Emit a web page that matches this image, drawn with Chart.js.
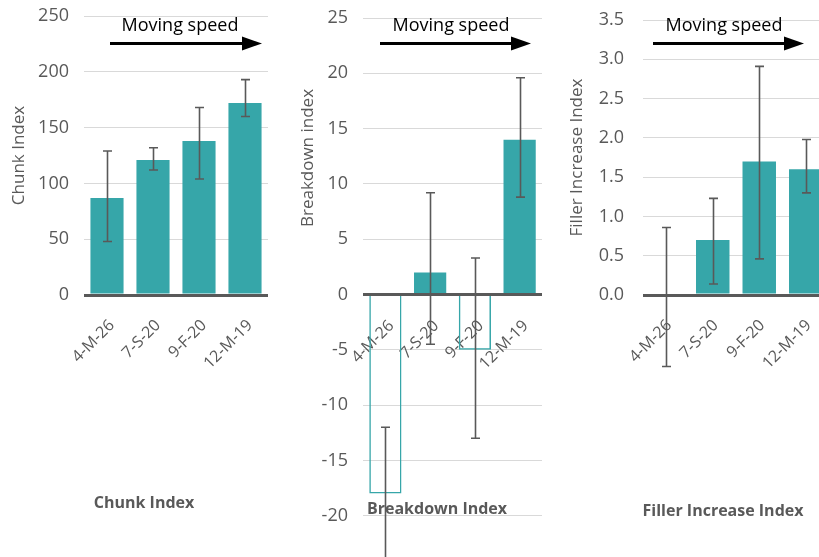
<!DOCTYPE html>
<html>
<head>
<meta charset="utf-8">
<script src="https://cdn.jsdelivr.net/npm/chart.js@4.4.1/dist/chart.umd.min.js"></script>
<style>
  html, body { margin:0; padding:0; background:#fff; width:819px; height:557px; overflow:hidden; position:relative; font-family:"Open Sans", sans-serif; }
  canvas { position:absolute; top:0; }
  .txt { position:absolute; white-space:nowrap; line-height:1; transform:translateX(-50%); }
  .speed { font-size:18px; color:#000; }
  .btitle { font-size:16px; font-weight:700; color:#595959; }
  .vtitle { position:absolute; white-space:nowrap; line-height:1; font-size:17px; color:#595959; transform:translate(-50%,-50%) rotate(-90deg); }
  svg { position:absolute; left:0; top:0; }
</style>
</head>
<body>
<canvas id="c1" width="280" height="557" style="left:0px;width:280px;height:557px"></canvas>
<canvas id="c2" width="270" height="600" style="left:280px;width:270px;height:600px"></canvas>
<canvas id="c3" width="290" height="557" style="left:550px;width:290px;height:557px"></canvas>

<svg width="819" height="557">
  <g stroke="#000" stroke-width="3" fill="#000">
    <line x1="110" y1="43.5" x2="244" y2="43.5"/>
    <polygon points="242,36.5 262,43.5 242,50.5" stroke="none"/>
    <line x1="380" y1="43.5" x2="513" y2="43.5"/>
    <polygon points="511,36.5 531,43.5 511,50.5" stroke="none"/>
    <line x1="653" y1="43.5" x2="786" y2="43.5"/>
    <polygon points="784,36.5 804,43.5 784,50.5" stroke="none"/>
  </g>
</svg>

<div class="txt speed" style="left:180px;top:14.5px">Moving speed</div>
<div class="txt speed" style="left:451px;top:14.5px">Moving speed</div>
<div class="txt speed" style="left:724px;top:14.5px">Moving speed</div>

<div class="vtitle" style="left:306px;top:158px">Breakdown index</div>

<div class="txt btitle" style="left:144px;top:494px">Chunk Index</div>
<div class="txt btitle" style="left:437px;top:500px">Breakdown Index</div>
<div class="txt btitle" style="left:723px;top:502px">Filler Increase Index</div>

<script>
// ---- data ----
const categories = ['4-M-26', '7-S-20', '9-F-20', '12-M-19'];

const chunkValues = [87, 121, 138, 172];
const chunkLow    = [48, 112, 104, 160];
const chunkHigh   = [129, 132, 168, 193];

const breakdownValues = [-18, 2, -5, 14];
const breakdownLow    = [-24, -4.5, -13, 8.8];
const breakdownHigh   = [-12, 9.2, 3.3, 19.6];

const fillerValues = [0, 0.7, 1.7, 1.6];
const fillerLow    = [-0.91, 0.14, 0.46, 1.3];
const fillerHigh   = [0.86, 1.23, 2.91, 1.98];

const chunkTicks = { min: 0, max: 250, step: 50 };
const breakdownTicks = { min: -25, max: 25, step: 5 };
const fillerTicks = { min: 0, max: 3.5, step: 0.5 };

// ---- styling ----
const TEAL = '#36a6a9';
const GRAY = '#595959';
const GRID = '#d9d9d9';
const FONT = '"Open Sans", sans-serif';

const errorBarPlugin = {
  id: 'errorBars',
  afterDatasetsDraw(chart, args, opts) {
    if (!opts || !opts.low) return;
    const { ctx } = chart;
    const x = chart.scales.x, y = chart.scales.y;
    ctx.save();
    ctx.strokeStyle = GRAY;
    ctx.lineWidth = 1.6;
    const cap = 4.5;
    opts.low.forEach((lo, i) => {
      const px = Math.round(x.getPixelForValue(i)) + 0.5;
      const yl = y.getPixelForValue(lo);
      const yh = y.getPixelForValue(opts.high[i]);
      ctx.beginPath();
      ctx.moveTo(px, yl); ctx.lineTo(px, yh);
      ctx.moveTo(px - cap, yl); ctx.lineTo(px + cap, yl);
      ctx.moveTo(px - cap, yh); ctx.lineTo(px + cap, yh);
      ctx.stroke();
    });
    ctx.restore();
  }
};

function gridColor(c) { return c.tick && c.tick.value === 0 ? GRAY : GRID; }
function gridWidth(c) { return c.tick && c.tick.value === 0 ? 3 : 1; }

function makeChart(id, cfg) {
  const xScale = {
    grid: { display: false },
    border: { display: false },
    ticks: {
      autoSkip: false, minRotation: 45, maxRotation: 45,
      color: GRAY, font: { family: FONT, size: 16 },
      padding: cfg.xPad, labelOffset: cfg.xLabelOffset || 0
    },
    afterFit: a => { a.height = cfg.xHeight; }
  };
  if (cfg.xPosition) xScale.position = cfg.xPosition;
  return new Chart(document.getElementById(id), {
    type: 'bar',
    data: {
      labels: categories,
      datasets: [{
        data: cfg.values,
        backgroundColor: cfg.values.map(v => v < 0 ? 'rgba(0,0,0,0)' : TEAL),
        borderColor: TEAL,
        borderWidth: cfg.values.map(v => v < 0 ? 1.5 : 0),
        categoryPercentage: 1,
        barPercentage: 0.72
      }]
    },
    options: {
      responsive: false,
      animation: false,
      devicePixelRatio: 1,
      layout: { padding: cfg.padding },
      plugins: {
        legend: { display: false },
        tooltip: { enabled: false },
        errorBars: { low: cfg.low, high: cfg.high }
      },
      scales: {
        x: xScale,
        y: {
          min: cfg.ticks.min, max: cfg.ticks.max,
          border: { display: false },
          grid: { color: gridColor, lineWidth: gridWidth, drawTicks: false },
          ticks: {
            stepSize: cfg.ticks.step, color: GRAY,
            font: { family: FONT, size: 18 }, padding: cfg.yPad,
            callback: cfg.tickFmt
          },
          title: cfg.yTitle ? {
            display: true, text: cfg.yTitle, color: GRAY,
            font: { family: FONT, size: 17 }, padding: { top: cfg.titlePad, bottom: 0 }
          } : { display: false },
          afterFit: a => { a.width = cfg.yWidth; a.paddingTop = 0; a.paddingBottom = 0; }
        }
      }
    },
    plugins: [errorBarPlugin]
  });
}

makeChart('c1', {
  values: chunkValues, low: chunkLow, high: chunkHigh, ticks: chunkTicks,
  padding: { top: 16, right: 12, bottom: 0, left: 0 },
  yWidth: 84, xHeight: 262, yPad: 15, xPad: 13, xLabelOffset: 5,
  yTitle: 'Chunk Index', titlePad: 9,
  tickFmt: v => String(v)
});

makeChart('c2', {
  values: breakdownValues, low: breakdownLow, high: breakdownHigh, ticks: breakdownTicks,
  padding: { top: 18, right: 8, bottom: 29, left: 0 },
  yWidth: 83, xHeight: 0, yPad: 15, xPad: 14, xLabelOffset: 6,
  xPosition: { y: 0 },
  yTitle: null,
  tickFmt: v => String(v)
});

makeChart('c3', {
  values: fillerValues, low: fillerLow, high: fillerHigh, ticks: fillerTicks,
  padding: { top: 20, right: 11, bottom: 0, left: 0 },
  yWidth: 93, xHeight: 262, yPad: 19, xPad: 13, xLabelOffset: 3,
  yTitle: 'Filler Increase Index', titlePad: 17,
  tickFmt: v => v.toFixed(1)
});
</script>
</body>
</html>
